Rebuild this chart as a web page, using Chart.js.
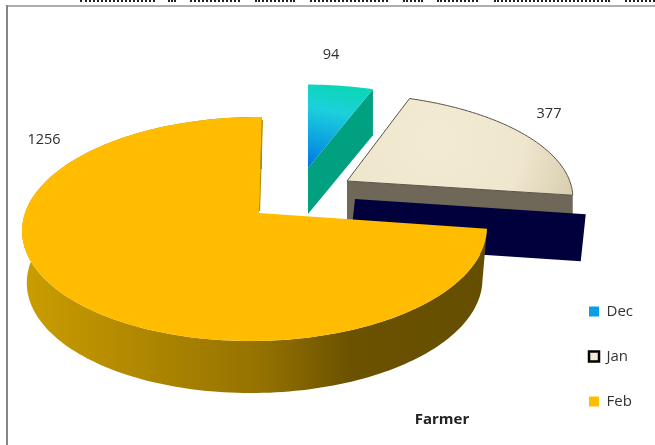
<!DOCTYPE html>
<html lang="en">
<head>
  <meta charset="UTF-8">
  <title>Farmer</title>
  <script src="https://cdn.jsdelivr.net/npm/chart.js@4"></script>
  <style>
    html, body { margin: 0; padding: 0; background: #fff; overflow: hidden; }
    #frame { position: relative; width: 655px; height: 445px; }
    #frame canvas { position: absolute; left: 0; top: 0; }
    /* rule of the surrounding sheet and the cut-off line of print above it */
    .rule-top { position: absolute; left: 6px; right: 0; top: 5px; height: 2px; background: #aeaeae; }
    .rule-left { position: absolute; left: 6px; top: 5px; bottom: 0; width: 2px; background: #858585; }
    .print { position: absolute; top: 0; height: 0; border-top: 2px dotted #222; }
  </style>
</head>
<body>
  <div id="frame">
    <canvas id="myChart" width="655" height="445"></canvas>
    <div class="rule-top"></div>
    <div class="rule-left"></div>
    <div id="printLine"></div>
  </div>

  <script>
    const categories = ['Dec', 'Jan', 'Feb'];
    const farmerValues = [94, 377, 1256];
    const chartTitle = 'Farmer';

    // extents of the print fragments along the top edge
    const printWords = [[80, 155], [168, 176], [190, 240], [255, 295], [310, 388], [403, 423], [437, 478], [494, 610], [625, 655]];
    printWords.forEach(([a, b]) => {
      const d = document.createElement('div');
      d.className = 'print';
      d.style.left = a + 'px';
      d.style.width = (b - a) + 'px';
      document.getElementById('printLine').appendChild(d);
    });

    // disc projection: tilt and a little perspective towards the viewer
    const RX = 230, RY = 109.7, TILT = 0.143, SIDE = 0.017;

    const sliceLook = [
      { ox: 308, oy: 168, sx: 0.96, sy: 0.87, shear: 0, depth: 46, wall: 'radial', wallColor: '#00a080' },
      { ox: 347, oy: 181, sx: 0.985, sy: 0.91, shear: 0.05, depth: 42, wall: 'radial', wallColor: '#6f6858', outline: '#59534a',
        slab: { dx1: 8, dy1: 18, dx2: 13, dy2: 19, height: 47, color: '#00003c' } },
      { ox: 259, oy: 213, sx: 1, sy: 1, shear: -0.03, depth: 52, wall: 'outer', face: '#ffbc00', inset: 0.98, edge: '#b58f00' }
    ];

    const labelSpots = [[331, 55], [549, 114], [44, 140]];

    function project(look, angle, r) {
      const u = r * Math.cos(angle), v = r * Math.sin(angle);
      const w = 1 - TILT * v + SIDE * u;
      const dy = look.sy * RY * v / w;
      return { x: look.ox + look.sx * RX * u / w + look.shear * dy, y: look.oy + dy };
    }

    function rimPoints(look, start, end) {
      const pts = [];
      const steps = Math.max(8, Math.ceil((end - start) * 40));
      for (let i = 0; i <= steps; i++) {
        pts.push(project(look, start + (end - start) * i / steps, 1));
      }
      return pts;
    }

    function tracePolygon(ctx, pts) {
      ctx.beginPath();
      pts.forEach((p, i) => (i ? ctx.lineTo(p.x, p.y) : ctx.moveTo(p.x, p.y)));
      ctx.closePath();
    }

    function faceFill(ctx, index, look, rim) {
      if (look.face) return look.face;
      const apex = { x: look.ox, y: look.oy };
      if (index === 0) {
        const g = ctx.createLinearGradient(rim[0].x + 22, rim[0].y, apex.x + 4, apex.y);
        g.addColorStop(0, '#0cd6b8');
        g.addColorStop(0.3, '#1cd0dc');
        g.addColorStop(0.75, '#0a98e2');
        g.addColorStop(1, '#0074e0');
        return g;
      }
      const g = ctx.createRadialGradient(apex.x + 90, apex.y - 40, 10, apex.x + 90, apex.y - 40, 150);
      g.addColorStop(0, '#f3ead3');
      g.addColorStop(0.55, '#efe6ce');
      g.addColorStop(1, '#d6cbad');
      return g;
    }

    class Arc3D extends Chart.ArcElement {
      static id = 'arc3d';
      static defaults = Chart.ArcElement.defaults;

      draw(ctx) {
        const { startAngle, endAngle } = this.getProps(['startAngle', 'endAngle']);
        const index = this.$context.dataIndex;
        const look = sliceLook[index];
        const apex = { x: look.ox, y: look.oy };
        const rim = rimPoints(look, startAngle, endAngle);
        ctx.save();

        if (look.wall === 'radial') {
          const tip = rim[rim.length - 1];
          ctx.fillStyle = look.wallColor;
          tracePolygon(ctx, [apex, tip, { x: tip.x, y: tip.y + look.depth }, { x: apex.x, y: apex.y + look.depth }]);
          ctx.fill();
          if (look.slab) {
            const s = look.slab;
            ctx.fillStyle = s.color;
            tracePolygon(ctx, [
              { x: apex.x + s.dx1, y: apex.y + s.dy1 },
              { x: tip.x + s.dx2, y: tip.y + s.dy2 },
              { x: tip.x + s.dx2 - 5, y: tip.y + s.dy2 + s.height },
              { x: apex.x + s.dx1 - 5, y: apex.y + s.dy1 + s.height }
            ]);
            ctx.fill();
          }
        } else {
          const lower = rim.map(p => ({ x: apex.x + (p.x - apex.x) * look.inset, y: p.y + look.depth })).reverse();
          const g = ctx.createLinearGradient(apex.x - RX, 0, apex.x + RX, 0);
          g.addColorStop(0, '#c99c00');
          g.addColorStop(0.5, '#957200');
          g.addColorStop(0.7, '#6b5200');
          g.addColorStop(1, '#654e00');
          ctx.fillStyle = g;
          tracePolygon(ctx, rim.concat(lower));
          ctx.fill();
        }

        ctx.fillStyle = faceFill(ctx, index, look, rim);
        tracePolygon(ctx, [apex].concat(rim));
        ctx.fill();

        if (look.outline) {
          ctx.strokeStyle = look.outline;
          ctx.lineWidth = 1;
          ctx.stroke();
        }
        if (look.edge) {
          const last = rim[rim.length - 1];
          ctx.strokeStyle = look.edge;
          ctx.lineWidth = 1.2;
          ctx.beginPath();
          ctx.moveTo(last.x + 0.5, last.y + 3);
          ctx.lineTo(apex.x + 0.5, apex.y - 2);
          ctx.stroke();
        }
        ctx.restore();
      }
    }

    class Pie3DController extends Chart.PieController {
      static id = 'pie3d';
      static defaults = { dataElementType: 'arc3d' };
    }

    Chart.register(Arc3D, Pie3DController);

    const textLabels = {
      id: 'textLabels',
      afterLayout(chart) {
        chart.legend.left -= 12;
        chart.legend.right -= 12;
      },
      afterDraw(chart) {
        const ctx = chart.ctx;
        const values = chart.data.datasets[0].data;
        ctx.save();
        ctx.fillStyle = '#2e2e2e';
        ctx.textAlign = 'center';
        ctx.textBaseline = 'middle';
        ctx.font = '14.5px "Open Sans"';
        values.forEach((v, i) => ctx.fillText(String(v), labelSpots[i][0], labelSpots[i][1]));
        ctx.font = 'bold 15px "Open Sans"';
        ctx.fillStyle = '#222';
        ctx.fillText(chartTitle, 442, 420);
        ctx.restore();
      }
    };

    new Chart(document.getElementById('myChart'), {
      type: 'pie3d',
      data: {
        labels: categories,
        datasets: [{ data: farmerValues, backgroundColor: ['#0c9ee2', '#f3ead3', '#ffbc00'], borderWidth: 0 }]
      },
      options: {
        responsive: false,
        animation: false,
        layout: { padding: { bottom: 6 } },
        plugins: {
          tooltip: { enabled: false },
          title: { display: false },
          legend: {
            position: 'right',
            align: 'end',
            labels: {
              boxWidth: 10,
              boxHeight: 10,
              padding: 30,
              color: '#333',
              font: { family: '"Open Sans"', size: 15 },
              generateLabels(chart) {
                const colors = chart.data.datasets[0].backgroundColor;
                return chart.data.labels.map((text, i) => ({
                  text,
                  index: i,
                  fillStyle: colors[i],
                  strokeStyle: i === 1 ? '#000' : colors[i],
                  lineWidth: i === 1 ? 2.5 : 0,
                  fontColor: '#333'
                }));
              }
            }
          }
        }
      },
      plugins: [textLabels]
    });
  </script>
</body>
</html>
